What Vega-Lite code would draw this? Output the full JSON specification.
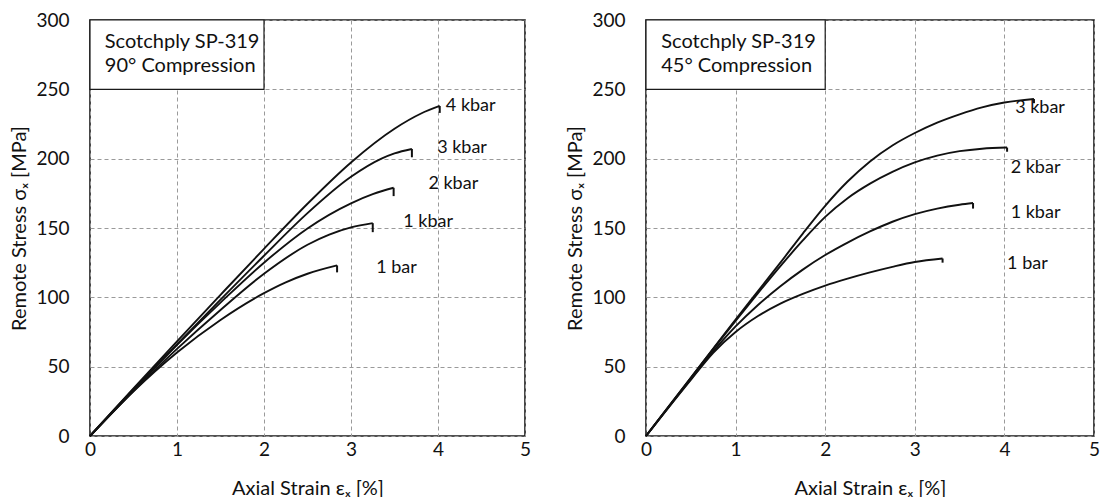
{
  "$schema": "https://vega.github.io/schema/vega-lite/v6.json",
  "background": "white",
  "padding": {"left": 9, "top": 10, "right": 5, "bottom": 0},
  "config": {
    "font": "Lato",
    "view": {"stroke": "#1a1a1a", "strokeWidth": 1.6},
    "concat": {"spacing": 33},
    "axis": {
      "labelFont": "Lato",
      "labelFontSize": 19,
      "labelColor": "#111111",
      "titleFont": "Lato",
      "titleFontSize": 20,
      "titleFontWeight": "normal",
      "titleColor": "#111111",
      "ticks": false,
      "tickSize": 0,
      "domain": false,
      "gridColor": "#9a9a9a",
      "gridDash": [4, 3],
      "gridWidth": 1
    },
    "axisX": {"labelPadding": 4, "titlePadding": 19, "labelFlush": false},
    "axisY": {"labelPadding": 21, "titlePadding": 6}
  },
  "datasets": {
    "curves90": [
      {"series": "4 kbar", "strain": 0, "stress": 0},
      {"series": "4 kbar", "strain": 0.5, "stress": 34.3},
      {"series": "4 kbar", "strain": 1, "stress": 68.3},
      {"series": "4 kbar", "strain": 1.5, "stress": 101.8},
      {"series": "4 kbar", "strain": 2, "stress": 135},
      {"series": "4 kbar", "strain": 2.5, "stress": 167.5},
      {"series": "4 kbar", "strain": 3, "stress": 197.3},
      {"series": "4 kbar", "strain": 3.5, "stress": 221.6},
      {"series": "4 kbar", "strain": 3.8, "stress": 232.4},
      {"series": "4 kbar", "strain": 4.02, "stress": 238},
      {"series": "3 kbar", "strain": 0, "stress": 0},
      {"series": "3 kbar", "strain": 0.5, "stress": 33.3},
      {"series": "3 kbar", "strain": 1, "stress": 66},
      {"series": "3 kbar", "strain": 1.5, "stress": 98.3},
      {"series": "3 kbar", "strain": 2, "stress": 130},
      {"series": "3 kbar", "strain": 2.5, "stress": 160.7},
      {"series": "3 kbar", "strain": 3, "stress": 186.9},
      {"series": "3 kbar", "strain": 3.35, "stress": 200},
      {"series": "3 kbar", "strain": 3.5, "stress": 203.8},
      {"series": "3 kbar", "strain": 3.7, "stress": 207},
      {"series": "2 kbar", "strain": 0, "stress": 0},
      {"series": "2 kbar", "strain": 0.5, "stress": 33.7},
      {"series": "2 kbar", "strain": 1, "stress": 65.8},
      {"series": "2 kbar", "strain": 1.5, "stress": 96.2},
      {"series": "2 kbar", "strain": 2, "stress": 125},
      {"series": "2 kbar", "strain": 2.5, "stress": 149.7},
      {"series": "2 kbar", "strain": 3, "stress": 167.8},
      {"series": "2 kbar", "strain": 3.25, "stress": 174.4},
      {"series": "2 kbar", "strain": 3.49, "stress": 179},
      {"series": "1 kbar", "strain": 0, "stress": 0},
      {"series": "1 kbar", "strain": 0.5, "stress": 32.4},
      {"series": "1 kbar", "strain": 1, "stress": 62.8},
      {"series": "1 kbar", "strain": 1.5, "stress": 90.9},
      {"series": "1 kbar", "strain": 2, "stress": 117},
      {"series": "1 kbar", "strain": 2.5, "stress": 137.9},
      {"series": "1 kbar", "strain": 2.75, "stress": 145.2},
      {"series": "1 kbar", "strain": 3, "stress": 150.4},
      {"series": "1 kbar", "strain": 3.25, "stress": 153.5},
      {"series": "1 bar", "strain": 0, "stress": 0},
      {"series": "1 bar", "strain": 0.5, "stress": 32.2},
      {"series": "1 bar", "strain": 1, "stress": 60.2},
      {"series": "1 bar", "strain": 1.5, "stress": 83.7},
      {"series": "1 bar", "strain": 2, "stress": 103},
      {"series": "1 bar", "strain": 2.25, "stress": 110.8},
      {"series": "1 bar", "strain": 2.5, "stress": 117},
      {"series": "1 bar", "strain": 2.84, "stress": 123}
    ],
    "hooks90": [
      {"series": "4 kbar", "strain": 4.02, "stress": 238, "stress2": 233},
      {"series": "3 kbar", "strain": 3.7, "stress": 207, "stress2": 201},
      {"series": "2 kbar", "strain": 3.49, "stress": 179, "stress2": 173},
      {"series": "1 kbar", "strain": 3.25, "stress": 153.5, "stress2": 147},
      {"series": "1 bar", "strain": 2.84, "stress": 123, "stress2": 118}
    ],
    "labels90": [
      {"strain": 4.09, "stress": 238, "text": "4 kbar"},
      {"strain": 3.99, "stress": 208, "text": "3 kbar"},
      {"strain": 3.89, "stress": 182, "text": "2 kbar"},
      {"strain": 3.6, "stress": 154, "text": "1 kbar"},
      {"strain": 3.29, "stress": 121, "text": "1 bar"}
    ],
    "box90": [
      {"strain": 0, "strain2": 2, "stress": 250, "stress2": 300}
    ],
    "boxtext90": [
      {"strain": 0.17, "stress": 284, "text": "Scotchply SP-319"},
      {"strain": 0.17, "stress": 267, "text": "90° Compression"}
    ],
    "curves45": [
      {"series": "3 kbar", "strain": 0, "stress": 0},
      {"series": "3 kbar", "strain": 0.5, "stress": 42},
      {"series": "3 kbar", "strain": 1, "stress": 84},
      {"series": "3 kbar", "strain": 1.25, "stress": 104.5},
      {"series": "3 kbar", "strain": 1.5, "stress": 125},
      {"series": "3 kbar", "strain": 1.75, "stress": 146},
      {"series": "3 kbar", "strain": 2, "stress": 166},
      {"series": "3 kbar", "strain": 2.25, "stress": 183.5},
      {"series": "3 kbar", "strain": 2.5, "stress": 198},
      {"series": "3 kbar", "strain": 2.75, "stress": 209.5},
      {"series": "3 kbar", "strain": 3, "stress": 218.5},
      {"series": "3 kbar", "strain": 3.25, "stress": 226},
      {"series": "3 kbar", "strain": 3.5, "stress": 232},
      {"series": "3 kbar", "strain": 3.75, "stress": 237},
      {"series": "3 kbar", "strain": 4, "stress": 240.5},
      {"series": "3 kbar", "strain": 4.33, "stress": 243},
      {"series": "2 kbar", "strain": 0, "stress": 0},
      {"series": "2 kbar", "strain": 0.5, "stress": 42},
      {"series": "2 kbar", "strain": 1, "stress": 83},
      {"series": "2 kbar", "strain": 1.25, "stress": 103},
      {"series": "2 kbar", "strain": 1.5, "stress": 122.5},
      {"series": "2 kbar", "strain": 1.75, "stress": 141},
      {"series": "2 kbar", "strain": 2, "stress": 158},
      {"series": "2 kbar", "strain": 2.25, "stress": 171.5},
      {"series": "2 kbar", "strain": 2.5, "stress": 182},
      {"series": "2 kbar", "strain": 2.75, "stress": 190.5},
      {"series": "2 kbar", "strain": 3, "stress": 197.3},
      {"series": "2 kbar", "strain": 3.25, "stress": 202.2},
      {"series": "2 kbar", "strain": 3.5, "stress": 205.4},
      {"series": "2 kbar", "strain": 3.75, "stress": 207.2},
      {"series": "2 kbar", "strain": 4.03, "stress": 208},
      {"series": "1 kbar", "strain": 0, "stress": 0},
      {"series": "1 kbar", "strain": 0.5, "stress": 41},
      {"series": "1 kbar", "strain": 0.75, "stress": 61},
      {"series": "1 kbar", "strain": 1, "stress": 79},
      {"series": "1 kbar", "strain": 1.25, "stress": 94.5},
      {"series": "1 kbar", "strain": 1.5, "stress": 108},
      {"series": "1 kbar", "strain": 1.75, "stress": 120},
      {"series": "1 kbar", "strain": 2, "stress": 130.5},
      {"series": "1 kbar", "strain": 2.25, "stress": 139.5},
      {"series": "1 kbar", "strain": 2.5, "stress": 147.5},
      {"series": "1 kbar", "strain": 2.75, "stress": 154.5},
      {"series": "1 kbar", "strain": 3, "stress": 160},
      {"series": "1 kbar", "strain": 3.25, "stress": 164},
      {"series": "1 kbar", "strain": 3.5, "stress": 166.8},
      {"series": "1 kbar", "strain": 3.65, "stress": 168},
      {"series": "1 bar", "strain": 0, "stress": 0},
      {"series": "1 bar", "strain": 0.5, "stress": 40.5},
      {"series": "1 bar", "strain": 0.75, "stress": 60},
      {"series": "1 bar", "strain": 1, "stress": 75},
      {"series": "1 bar", "strain": 1.25, "stress": 86.5},
      {"series": "1 bar", "strain": 1.5, "stress": 95.5},
      {"series": "1 bar", "strain": 1.75, "stress": 102.5},
      {"series": "1 bar", "strain": 2, "stress": 108.5},
      {"series": "1 bar", "strain": 2.25, "stress": 113.5},
      {"series": "1 bar", "strain": 2.5, "stress": 118},
      {"series": "1 bar", "strain": 2.75, "stress": 122},
      {"series": "1 bar", "strain": 3, "stress": 125.5},
      {"series": "1 bar", "strain": 3.31, "stress": 128}
    ],
    "hooks45": [
      {"series": "3 kbar", "strain": 4.33, "stress": 243, "stress2": 240},
      {"series": "2 kbar", "strain": 4.03, "stress": 208, "stress2": 205},
      {"series": "1 kbar", "strain": 3.65, "stress": 168, "stress2": 164},
      {"series": "1 bar", "strain": 3.31, "stress": 128, "stress2": 125}
    ],
    "labels45": [
      {"strain": 4.12, "stress": 236.5, "text": "3 kbar"},
      {"strain": 4.07, "stress": 193, "text": "2 kbar"},
      {"strain": 4.07, "stress": 161, "text": "1 kbar"},
      {"strain": 4.03, "stress": 124, "text": "1 bar"}
    ],
    "box45": [
      {"strain": 0, "strain2": 2, "stress": 250, "stress2": 300}
    ],
    "boxtext45": [
      {"strain": 0.17, "stress": 284, "text": "Scotchply SP-319"},
      {"strain": 0.17, "stress": 267, "text": "45° Compression"}
    ]
  },
  "hconcat": [
    {
      "width": 435,
      "height": 416,
      "encoding": {
        "x": {"field": "strain", "type": "quantitative", "title": "Axial Strain εₓ [%]",
              "scale": {"domain": [0, 5], "nice": false},
              "axis": {"values": [0, 1, 2, 3, 4, 5]}},
        "y": {"field": "stress", "type": "quantitative", "title": "Remote Stress σₓ [MPa]",
              "scale": {"domain": [0, 300], "nice": false},
              "axis": {"values": [0, 50, 100, 150, 200, 250, 300]}}
      },
      "layer": [
        {
          "data": {"name": "box90"},
          "mark": {"type": "rect", "fill": "white", "stroke": "#1a1a1a", "strokeWidth": 1.2},
          "encoding": {"x2": {"field": "strain2"}, "y2": {"field": "stress2"}}
        },
        {
          "data": {"name": "boxtext90"},
          "mark": {"type": "text", "align": "left", "baseline": "middle", "fontSize": 20, "color": "#111111"},
          "encoding": {"text": {"field": "text"}}
        },
        {
          "data": {"name": "curves90"},
          "mark": {"type": "line", "interpolate": "monotone", "color": "#111111", "strokeWidth": 1.9},
          "encoding": {"detail": {"field": "series"}}
        },
        {
          "data": {"name": "hooks90"},
          "mark": {"type": "rule", "color": "#111111", "strokeWidth": 2},
          "encoding": {"y2": {"field": "stress2"}}
        },
        {
          "data": {"name": "labels90"},
          "mark": {"type": "text", "align": "left", "baseline": "middle", "fontSize": 18, "color": "#111111"},
          "encoding": {"text": {"field": "text"}}
        }
      ]
    },
    {
      "width": 448,
      "height": 416,
      "encoding": {
        "x": {"field": "strain", "type": "quantitative", "title": "Axial Strain εₓ [%]",
              "scale": {"domain": [0, 5], "nice": false},
              "axis": {"values": [0, 1, 2, 3, 4, 5]}},
        "y": {"field": "stress", "type": "quantitative", "title": "Remote Stress σₓ [MPa]",
              "scale": {"domain": [0, 300], "nice": false},
              "axis": {"values": [0, 50, 100, 150, 200, 250, 300]}}
      },
      "layer": [
        {
          "data": {"name": "box45"},
          "mark": {"type": "rect", "fill": "white", "stroke": "#1a1a1a", "strokeWidth": 1.2},
          "encoding": {"x2": {"field": "strain2"}, "y2": {"field": "stress2"}}
        },
        {
          "data": {"name": "boxtext45"},
          "mark": {"type": "text", "align": "left", "baseline": "middle", "fontSize": 20, "color": "#111111"},
          "encoding": {"text": {"field": "text"}}
        },
        {
          "data": {"name": "curves45"},
          "mark": {"type": "line", "interpolate": "monotone", "color": "#111111", "strokeWidth": 1.9},
          "encoding": {"detail": {"field": "series"}}
        },
        {
          "data": {"name": "hooks45"},
          "mark": {"type": "rule", "color": "#111111", "strokeWidth": 2},
          "encoding": {"y2": {"field": "stress2"}}
        },
        {
          "data": {"name": "labels45"},
          "mark": {"type": "text", "align": "left", "baseline": "middle", "fontSize": 18, "color": "#111111"},
          "encoding": {"text": {"field": "text"}}
        }
      ]
    }
  ]
}
